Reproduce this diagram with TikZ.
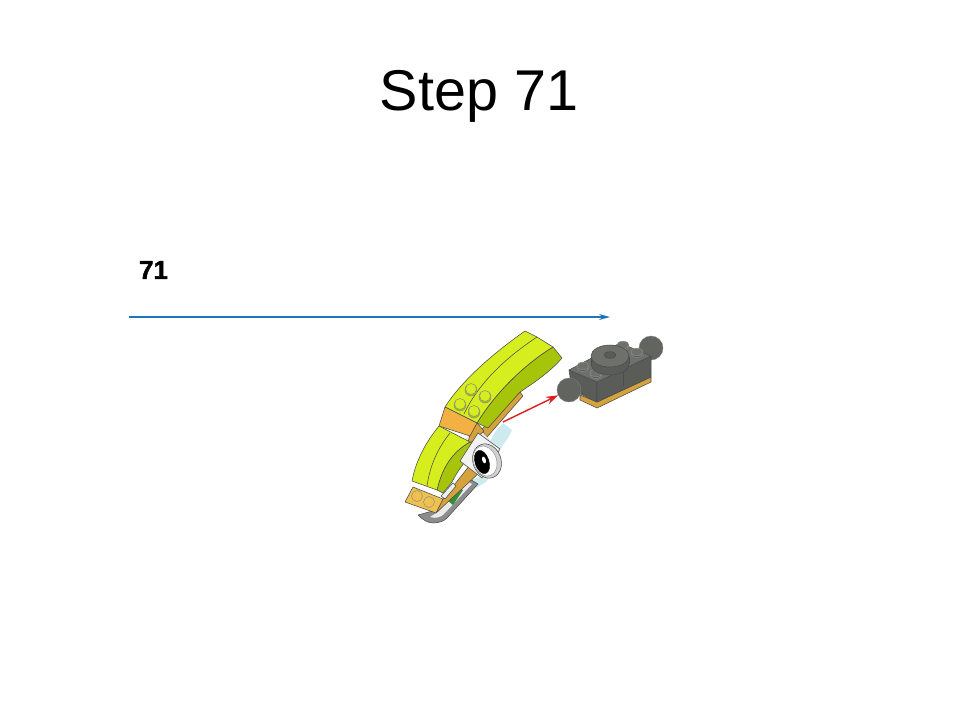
\documentclass[tikz,border=0pt]{standalone}
\usepackage{fontspec}
\setmainfont{Liberation Sans}
\newfontfamily\stepfont[FakeBold=1.6]{Liberation Sans Bold}
\usetikzlibrary{arrows.meta}
\definecolor{limetop}{HTML}{D6EE1E}
\definecolor{limeside}{HTML}{A5C40A}
\definecolor{tanlight}{HTML}{F3B043}
\definecolor{tandark}{HTML}{D5A23C}
\definecolor{plateyellow}{HTML}{EFC24F}
\definecolor{darkbrick}{HTML}{5A5C57}
\definecolor{darktop}{HTML}{6E706B}
\definecolor{ballgrey}{HTML}{626460}
\definecolor{glass}{HTML}{CDEBEE}
\definecolor{linkblue}{HTML}{1F74BC}
\definecolor{linkred}{HTML}{DC1F1F}
\begin{document}
\begin{tikzpicture}[x=1pt, y=-1pt, font=\small,
		edge/.style={draw=black!70, line width=0.55pt, line join=round},
		lime/.style={edge, fill=limetop},
		limedark/.style={edge, fill=limeside},
		tan/.style={edge, fill=tanlight},
		tanside/.style={edge, fill=tandark},
		brick/.style={edge, fill=darkbrick},
		stud/.style={draw=black!45, line width=0.5pt, fill=#1},
		ball/.style={circle, draw=black!50, line width=0.4pt, fill=ballgrey, minimum size=24pt, inner sep=0pt}]
		\useasboundingbox (0,0) rectangle (960,720);
		\node[font=\fontsize{57.5}{60}\selectfont] (title) at (479,96) {Step 71};
		\node[font=\fontsize{26}{28}\stepfont] (stepnum) at (153.5,270) {71};
		\coordinate (blueA) at (129,317);
		\coordinate (blueB) at (610,317);
		\draw[linkblue, line width=1.2pt, -{Stealth[length=11pt,width=6pt]}] (blueA) -- (blueB);
		% glass piece behind the round tile
		\fill[glass] (495,432) -- (503,423) -- (512,430) -- (508,438) -- (498,452) -- (488,445) -- cycle;
		\fill[glass] (470,480) -- (492,473) -- (486,482) -- (476,488) -- cycle;
		% curved grey hook
		\draw[edge, fill=black!45] (418,515) .. controls (423,520) and (428,523) .. (433,523) .. controls (439,523) and (444,521) .. (447,518) -- (478,484) -- (468,478) -- (436,510) -- cycle;
		\fill[black!8] (430,517) .. controls (436,519) and (441,517) .. (444,514) -- (472,484) -- (467,481) -- (438,512) -- cycle;
		\fill[green!45!black!80] (455,485) -- (463,490) -- (453,505) -- (447,500) -- cycle;
		% long upper brick
		\draw[tanside] (520,392) -- (523,396) -- (487,437) -- (481,430) -- cycle;
		\draw[limedark] (553,347) -- (562,358) .. controls (550,372) and (535,382) .. (520,392) -- (488,428) -- (477,423) .. controls (497,390) and (528,362) .. cycle;
		\draw[lime] (525,331) -- (537,337) -- (553,347) .. controls (528,362) and (497,390) .. (477,423) -- (445,407) .. controls (462,380) and (495,352) .. cycle;
		\draw[edge] (537,337) .. controls (510,355) and (480,380) .. (464,414);
		\foreach \sx/\sy in {471/389, 485/396, 460/404, 474/411} {
			\draw[stud=limeside] (\sx,\sy+1) circle (6);
			\draw[stud=limetop] (\sx,\sy) circle (5.5);
		}
		% orange block
		\fill[black!10] (470,433) -- (478,428) -- (490,440) -- (470,460) -- (460,450) -- cycle;
		\draw[tanside] (477,423) -- (484,431) -- (467,446) -- (470,435) -- cycle;
		\draw[tan] (445,407) -- (477,423) -- (470,436) -- (439,426) -- cycle;
		% strips beside the lower brick
		\draw[tanside] (443,499) -- (470,465) -- (480,472) -- (436,513) -- cycle;
		\draw[edge, fill=black!6] (441,496) -- (453,483) -- (456,486) -- (445,499) -- cycle;
		% lower lime brick
		\draw[limedark] (470,442) -- (478,448) .. controls (465,460) and (457,472) .. (452,482) -- (443,493) -- (437,490) .. controls (442,468) and (452,452) .. cycle;
		\draw[lime] (439,426) -- (470,442) .. controls (452,452) and (442,468) .. (437,490) -- (412,481) .. controls (416,460) and (426,442) .. cycle;
		\draw[edge] (450,433) .. controls (438,448) and (430,465) .. (427,486);
		% yellow plate and its studs
		\draw[edge, fill=plateyellow] (413,487) -- (443,499) -- (436,513) -- (405,502) -- cycle;
		\foreach \sx/\sy in {417/496, 429/502} {
			\draw[stud=plateyellow] (\sx,\sy) circle (5.5);
		}
		% square tile with the round eye
		\draw[edge, fill=black!5] (478,433) -- (500,449) -- (482,478) -- (460,461) -- cycle;
		\draw[edge, fill=black!18, rotate around={20:(487,461)}] (487,461) ellipse (14 and 17.5);
		\draw[edge, draw=black!40, fill=white, rotate around={20:(485,461)}] (485,461) ellipse (11.5 and 15.5);
		\draw[fill=black, rotate around={18:(482,462)}] (482,462) ellipse (7 and 12);
		\fill[white, rotate around={18:(484,460)}] (484,460) ellipse (1.8 and 3.5);
		% dark part with two balls
		\node[ball] (ballR) at (651,348) {};
		\draw[edge, fill=tandark] (580,395) -- (597,402) -- (651,377) -- (651,382) -- (597,408) -- (580,400) -- cycle;
		\draw[brick] (569,370) -- (597,382) -- (597,402) -- (572,390) -- cycle;
		\draw[brick] (597,382) -- (651,356) -- (651,377) -- (597,402) -- cycle;
		\draw[edge] (623,370) -- (623,386);
		\draw[edge, fill=darktop] (569,370) -- (620,343) -- (651,356) -- (597,382) -- cycle;
		\foreach \sx/\sy in {583/366, 596/373, 623/345, 637/352} {
			\draw[stud=darkbrick] (\sx,\sy+1.5) ellipse (6 and 4);
			\draw[stud=darktop] (\sx,\sy) ellipse (6 and 3.8);
		}
		\draw[edge, fill=darkbrick] (610,364) ellipse (19 and 11);
		\fill[darkbrick] (591,357) rectangle (629,364);
		\draw[edge] (591,357) -- (591,364);
		\draw[edge] (629,357) -- (629,364);
		\draw[edge, fill=darktop] (610,356) ellipse (19 and 11);
		\draw[edge, fill=darkbrick] (610,355) ellipse (6 and 3.3);
		\node[ball] (ballL) at (569,390) {};
		% red arrow onto the left ball
		\coordinate (redA) at (503,422);
		\draw[linkred, line width=1.4pt, -{Stealth[length=12pt,width=8pt]}] (redA) -- (ballL);
	\end{tikzpicture}
\end{document}
